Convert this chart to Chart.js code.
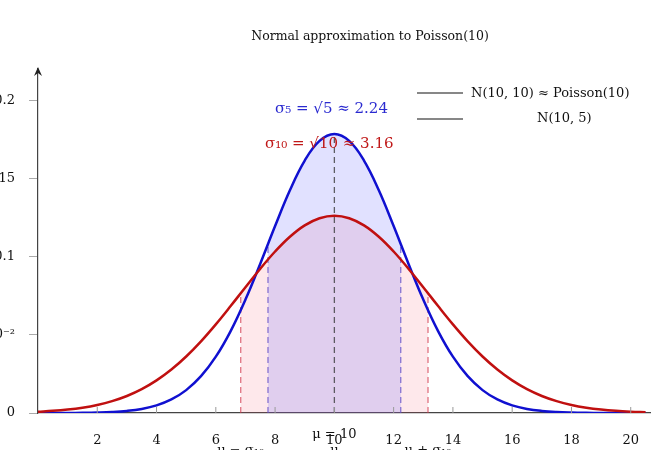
<!DOCTYPE html>
<html>
<head>
<meta charset="utf-8">
<script src="https://cdn.jsdelivr.net/npm/chart.js@4"></script>
<style>
  body { margin: 0; overflow: hidden; background: #fff; }
  #wrap { position: relative; width: 659px; height: 450px; overflow: hidden; }
  #c { position: absolute; left: -30px; top: 0; }
</style>
</head>
<body>
<div id="wrap"><canvas id="c" width="689" height="450"></canvas></div>
<script>
// x positions of the sampled curves
var xs = [0,0.5,1,1.5,2,2.5,3,3.5,4,4.5,5,5.5,6,6.5,7,7.5,8,8.5,9,9.5,10,
          10.5,11,11.5,12,12.5,13,13.5,14,14.5,15,15.5,16,16.5,17,17.5,18,18.5,19,19.5,20,20.5];
// N(10, 5) density
var blueVals = [0.00001,0.00002,0.00005,0.00013,0.00030,0.00064,0.00133,0.00261,0.00487,0.00866,
                0.01464,0.02355,0.03602,0.05241,0.07254,0.09550,0.11959,0.14247,0.16143,0.17400,0.17841,
                0.17400,0.16143,0.14247,0.11959,0.09550,0.07254,0.05241,0.03602,0.02355,0.01464,
                0.00866,0.00487,0.00261,0.00133,0.00064,0.00030,0.00013,0.00005,0.00002,0.00001,0];
// N(10, 10) density
var redVals = [0.00085,0.00138,0.00220,0.00340,0.00514,0.00758,0.01089,0.01526,0.02085,0.02780,
               0.03615,0.04584,0.05669,0.06838,0.08044,0.09230,0.10329,0.11274,0.12001,0.12459,0.12616,
               0.12459,0.12001,0.11274,0.10329,0.09230,0.08044,0.06838,0.05669,0.04584,0.03615,
               0.02780,0.02085,0.01526,0.01089,0.00758,0.00514,0.00340,0.00220,0.00138,0.00085,0.00051];
var xTicks = [2,4,6,8,10,12,14,16,18,20];
var yTicks = [0,0.05,0.1,0.15,0.2];
var yLabels = ['0','5\u00b710\u207b\u00b2','0.1','0.15','0.2'];
var mu = 10, sd5 = 2.24, sd10 = 3.16;

var serif = '"DejaVu Serif", "Liberation Serif", serif';

function pts(vals) { return xs.map(function(x, i) { return {x: x, y: vals[i]}; }); }

var deco = {
  id: 'deco',
  beforeDatasetsDraw: function(chart) {
    var ctx = chart.ctx, xS = chart.scales.x, yS = chart.scales.y, a = chart.chartArea;
    function band(idx, lo, hi, color) {
      var meta = chart.getDatasetMeta(idx);
      ctx.save();
      ctx.beginPath();
      ctx.rect(xS.getPixelForValue(lo), a.top, xS.getPixelForValue(hi) - xS.getPixelForValue(lo), a.bottom - a.top);
      ctx.clip();
      ctx.beginPath();
      ctx.moveTo(meta.data[0].x, yS.getPixelForValue(0));
      meta.data.forEach(function(p) { ctx.lineTo(p.x, p.y); });
      ctx.lineTo(meta.data[meta.data.length - 1].x, yS.getPixelForValue(0));
      ctx.closePath();
      ctx.fillStyle = color;
      ctx.fill();
      ctx.restore();
    }
    band(0, mu - sd10, mu + sd10, 'rgba(250,80,100,0.13)');
    band(1, mu - sd5, mu + sd5, 'rgba(90,90,255,0.18)');

    function vline(x, val, color) {
      ctx.save();
      ctx.setLineDash([6, 4]);
      ctx.strokeStyle = color;
      ctx.lineWidth = 1.3;
      ctx.beginPath();
      ctx.moveTo(xS.getPixelForValue(x), yS.getPixelForValue(0));
      ctx.lineTo(xS.getPixelForValue(x), yS.getPixelForValue(val));
      ctx.stroke();
      ctx.restore();
    }
    vline(mu - sd10, 0.0764, 'rgba(210,60,80,0.7)');
    vline(mu + sd10, 0.0764, 'rgba(210,60,80,0.7)');
    vline(mu - sd5, 0.1082, 'rgba(100,80,200,0.75)');
    vline(mu + sd5, 0.1082, 'rgba(100,80,200,0.75)');
    vline(mu, 0.1784, 'rgba(60,60,60,0.8)');
  },
  afterDraw: function(chart) {
    var ctx = chart.ctx, xS = chart.scales.x, yS = chart.scales.y, a = chart.chartArea;
    var y0 = yS.getPixelForValue(0);
    ctx.save();
    // x tick marks (inside)
    ctx.strokeStyle = '#999';
    ctx.lineWidth = 1;
    xTicks.forEach(function(t) {
      var px = xS.getPixelForValue(t);
      ctx.beginPath(); ctx.moveTo(px, y0); ctx.lineTo(px, y0 - 6); ctx.stroke();
    });
    // y axis arrow
    ctx.fillStyle = '#222';
    ctx.beginPath();
    ctx.moveTo(a.left, a.top - 2);
    ctx.lineTo(a.left - 4, a.top + 7);
    ctx.lineTo(a.left, a.top + 4);
    ctx.lineTo(a.left + 4, a.top + 7);
    ctx.closePath();
    ctx.fill();
    // title
    ctx.fillStyle = '#111';
    ctx.font = '12.5px ' + serif;
    ctx.textAlign = 'center';
    ctx.textBaseline = 'alphabetic';
    ctx.fillText('Normal approximation to Poisson(10)', 400, 40);
    // legend
    ctx.strokeStyle = '#111';
    ctx.lineWidth = 1.2;
    ctx.beginPath(); ctx.moveTo(447, 93); ctx.lineTo(493, 93); ctx.stroke();
    ctx.beginPath(); ctx.moveTo(447, 119); ctx.lineTo(493, 119); ctx.stroke();
    ctx.font = '13px ' + serif;
    ctx.textAlign = 'left';
    ctx.fillText('N(10, 10) \u2248 Poisson(10)', 501, 97);
    ctx.fillText('N(10, 5)', 567, 122);
    // sigma annotations
    ctx.font = '15px ' + serif;
    ctx.fillStyle = '#2a2ad0';
    ctx.fillText('\u03c3\u2085 = \u221a5 \u2248 2.24', 305, 113);
    ctx.fillStyle = '#c01818';
    ctx.fillText('\u03c3\u2081\u2080 = \u221a10 \u2248 3.16', 295, 148);
    // mu labels below axis
    ctx.fillStyle = '#111';
    ctx.font = '13px ' + serif;
    ctx.textAlign = 'center';
    ctx.fillText('\u03bc = 10', xS.getPixelForValue(mu), 438);
    ctx.fillText('\u03bc \u2212 \u03c3\u2081\u2080', xS.getPixelForValue(mu - sd10), 454);
    ctx.fillText('\u03bc', xS.getPixelForValue(mu), 454);
    ctx.fillText('\u03bc + \u03c3\u2081\u2080', xS.getPixelForValue(mu + sd10), 454);
    ctx.restore();
  }
};

new Chart(document.getElementById('c'), {
  type: 'line',
  data: {
    datasets: [
      { label: 'N(10, 10)', data: pts(redVals), borderColor: '#c01010', borderWidth: 2.5,
        pointRadius: 0, tension: 0.4, fill: false },
      { label: 'N(10, 5)', data: pts(blueVals), borderColor: '#1010d0', borderWidth: 2.5,
        pointRadius: 0, tension: 0.4, fill: false }
    ]
  },
  options: {
    responsive: false,
    animation: false,
    layout: { padding: { top: 69, right: -12, left: 0, bottom: 0 } },
    plugins: { legend: { display: false }, tooltip: { enabled: false } },
    scales: {
      x: {
        type: 'linear', min: 0, max: 20.66,
        afterBuildTicks: function(s) { s.ticks = xTicks.map(function(v) { return {value: v}; }); },
        afterFit: function(s) { s.height = 37; },
        grid: { drawOnChartArea: false, tickLength: 0 },
        border: { color: '#444', width: 1.2 },
        ticks: { padding: 20, color: '#111', font: { family: serif, size: 13 } }
      },
      y: {
        min: 0, max: 0.22,
        afterBuildTicks: function(s) { s.ticks = yTicks.map(function(v) { return {value: v}; }); },
        afterFit: function(s) { s.width = 68; },
        grid: { drawOnChartArea: false, tickLength: 9, color: '#aaa' },
        border: { color: '#444', width: 1.2 },
        ticks: { padding: 14, color: '#111', font: { family: serif, size: 13 },
          callback: function(v) { return yLabels[yTicks.indexOf(v)]; } }
      }
    }
  },
  plugins: [deco]
});
</script>
</body>
</html>
